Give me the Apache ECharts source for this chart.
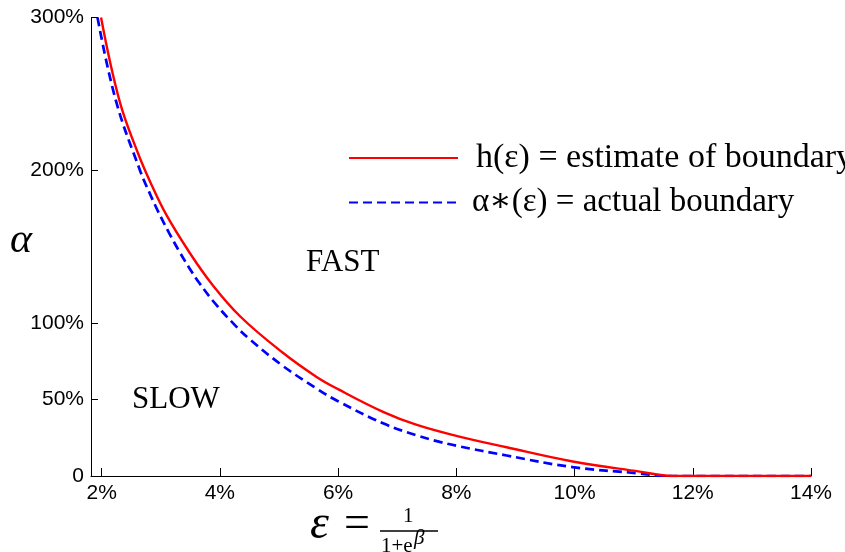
<!DOCTYPE html>
<html>
<head>
<meta charset="utf-8">
<script src="https://cdn.jsdelivr.net/npm/echarts@6/dist/echarts.min.js"></script>
<style>
  html, body { margin: 0; padding: 0; background: #fff; }
  #chart { width: 845px; height: 552px; }
</style>
</head>
<body>
<div id="chart"></div>
<script>
// Estimated boundary h(ε): ε in percent, α in percent
const epsEstimate   = [1.99, 2.30, 2.61, 2.86, 3.10, 3.47, 3.86, 4.35, 5.06, 5.63, 5.99, 6.76, 7.32, 8.00, 8.85, 9.97, 11.10, 11.66, 14.00];
const alphaEstimate = [300, 245.8, 211.7, 189.2, 170.5, 147.2, 125.8, 104.2, 80.8, 65.0, 57.0, 42.0, 33.6, 26.3, 18.8, 9.5, 2.9, 0, 0];

// Actual boundary α*(ε)
const epsActual   = [1.93, 2.24, 2.66, 2.82, 2.95, 3.14, 3.31, 3.48, 3.65, 3.93, 4.27, 4.50, 5.06, 5.63, 5.99, 6.76, 7.32, 7.72, 8.00, 8.85, 9.97, 11.10, 11.55, 14.00];
const alphaActual = [300, 245.8, 198.8, 184.4, 173.5, 159.1, 147.2, 136.3, 126.4, 112.4, 98.1, 89.6, 72.2, 57.4, 49.1, 34.5, 26.7, 22.3, 19.8, 13.4, 5.8, 1.7, 0, 0];

// Axis ticks
const xTicks = [2, 4, 6, 8, 10, 12, 14];
const yTicks = [0, 50, 100, 200, 300];

// Series names and region labels
const nameEstimate = 'h(ε) = estimate of boundary';
const nameActual = 'α∗(ε) = actual boundary';
const regionFast = 'FAST';
const regionSlow = 'SLOW';

const zip = (xs, ys) => xs.map((x, i) => [x, ys[i]]);

const serif = '"Liberation Serif", "DejaVu Serif", serif';
const sans = '"Liberation Sans", Arial, sans-serif';

const chart = echarts.init(document.getElementById('chart'), null, { renderer: 'canvas' });

chart.setOption({
  animation: false,
  backgroundColor: '#fff',
  grid: { left: 91, right: 34, top: 17.5, bottom: 76, containLabel: false },
  xAxis: {
    type: 'value',
    min: 1.82,
    max: 14,
    axisLine: { show: true, onZero: false, lineStyle: { color: '#000', width: 1 } },
    axisTick: { show: true, inside: true, length: 8, customValues: xTicks, lineStyle: { color: '#000' } },
    axisLabel: {
      customValues: xTicks,
      formatter: v => v + '%',
      color: '#000', fontFamily: sans, fontSize: 21, margin: 7
    },
    splitLine: { show: false }
  },
  yAxis: {
    type: 'value',
    min: 0,
    max: 300,
    axisLine: { show: true, onZero: false, lineStyle: { color: '#000', width: 1 } },
    axisTick: { show: true, inside: true, length: 7, customValues: yTicks, lineStyle: { color: '#000' } },
    axisLabel: {
      customValues: yTicks,
      formatter: v => (v === 0 ? '0' : v + '%'),
      color: '#000', fontFamily: sans, fontSize: 21, margin: 7
    },
    splitLine: { show: false }
  },
  legend: {
    orient: 'vertical',
    left: 348,
    top: 141,
    padding: 0,
    itemWidth: 109,
    itemHeight: 32,
    itemGap: 11,
    data: [
      { name: nameEstimate, textStyle: { fontSize: 34, padding: [0, 0, 0, 13] } },
      { name: nameActual }
    ],
    itemStyle: { opacity: 0 },
    textStyle: { color: '#000', fontFamily: serif, fontSize: 33, padding: [0, 0, 0, 9] }
  },
  series: [
    {
      name: nameEstimate,
      type: 'line',
      data: zip(epsEstimate, alphaEstimate),
      showSymbol: false,
      symbol: 'none',
      smooth: 0.4,
      clip: true,
      z: 3,
      lineStyle: { color: '#ff0000', width: 2.4 },
      itemStyle: { color: '#ff0000' }
    },
    {
      name: nameActual,
      type: 'line',
      data: zip(epsActual, alphaActual),
      showSymbol: false,
      symbol: 'none',
      smooth: 0.4,
      clip: true,
      z: 2,
      lineStyle: { color: '#0000ff', width: 2.7, type: [9, 5] },
      itemStyle: { color: '#0000ff' }
    }
  ],
  graphic: [
    // y-axis name
    { type: 'text', left: 10, top: 220, style: { text: 'α', font: 'italic 42px ' + serif, fill: '#000' } },
    // region labels
    { type: 'text', left: 306, top: 247, style: { text: regionFast, font: '31px ' + serif, fill: '#000' } },
    { type: 'text', left: 132, top: 384, style: { text: regionSlow, font: '31px ' + serif, fill: '#000' } },
    // x-axis name: ε = 1 / (1 + e^β)
    { type: 'text', left: 310, top: 501, style: { text: 'ε', font: 'italic 48px ' + serif, fill: '#000' } },
    { type: 'text', left: 344, top: 502, style: { text: '=', font: '46px ' + serif, fill: '#000' } },
    { type: 'text', left: 403, top: 506, style: { text: '1', font: '21px ' + serif, fill: '#000' } },
    { type: 'line', shape: { x1: 380, y1: 531, x2: 438, y2: 531 }, style: { stroke: '#000', lineWidth: 1.3 } },
    { type: 'text', left: 381, top: 536, style: { text: '1+e', font: '21px ' + serif, fill: '#000' } },
    { type: 'text', left: 414, top: 528, style: { text: 'β', font: 'italic 21px ' + serif, fill: '#000' } }
  ]
});
</script>
</body>
</html>
